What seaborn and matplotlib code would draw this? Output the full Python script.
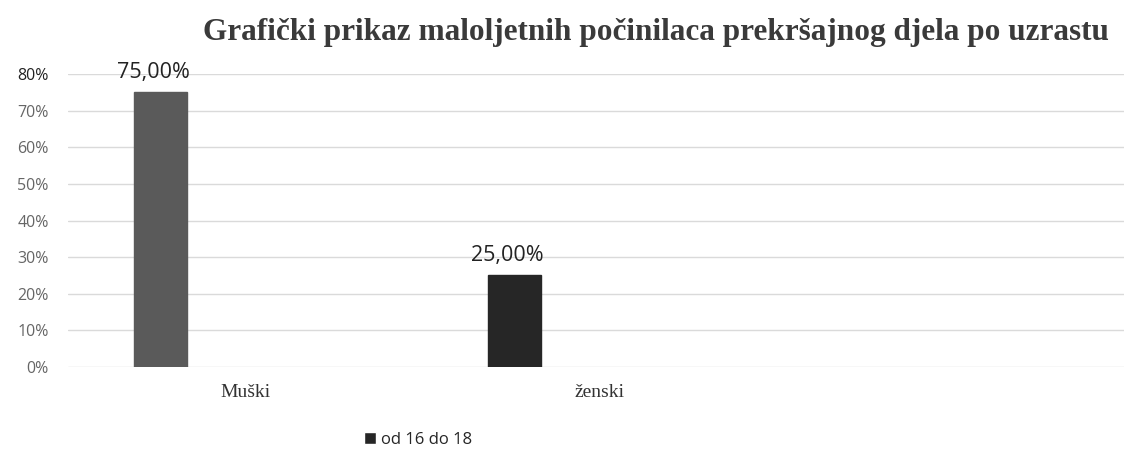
import matplotlib
matplotlib.use("Agg")
import matplotlib.pyplot as plt
from matplotlib.patches import Patch
import pandas as pd
import seaborn as sns

# data
categories = ["Muški", "ženski"]
values = [0.75, 0.25]
series = "od 16 do 18"
slots = ["Muški", "ženski", ""]          # third category slot is empty in the original
bar_colors = ["#5a5a5a", "#262626"]

df = pd.DataFrame({"spol": categories, "udio": values, "uzrast": series})

sns.set_style("white")
plt.rcParams["font.family"] = ["Open Sans", "DejaVu Sans"]

fig = plt.figure(figsize=(11.24, 4.57), dpi=100)
ax = fig.add_axes([0.0605, 0.197, 0.945, 0.641])

sns.barplot(data=df, x="spol", y="udio", hue="uzrast", order=slots,
            hue_order=[series, "_b", "_c"], width=0.72, gap=0.375,
            dodge=True, legend=False, ax=ax)

for p, c in zip(ax.patches, bar_colors):
    p.set_facecolor(c)
    p.set_edgecolor(c)

for p, v in zip(ax.patches, values):
    ax.text(p.get_x() + p.get_width() / 2 - 0.02, v + 0.025, f"{v*100:.2f}%".replace(".", ","),
            ha="center", va="bottom", fontsize=15.5, color="#222222")

ax.set_ylim(0, 0.8)
ax.set_xlim(-0.5, 2.5)
ax.set_yticks([i / 10 for i in range(9)])
ax.set_yticklabels([f"{i*10}%" for i in range(9)], fontsize=11.5, color="#666666")
ax.get_yticklabels()[-1].set_color("#222222")
ax.tick_params(axis="y", length=0, pad=14)
ax.tick_params(axis="x", length=0, pad=12)
ax.set_xticks([0, 1])
ax.set_xticklabels(categories, family="Liberation Serif", fontsize=14, color="#333333")
ax.grid(axis="y", color="#dadada", linewidth=1)
ax.set_axisbelow(True)
ax.set_xlabel("")
ax.set_ylabel("")
sns.despine(ax=ax, left=True, bottom=True, top=True, right=True)

fig.text(0.584, 0.928, "Grafički prikaz maloljetnih počinilaca prekršajnog djela po uzrastu",
         ha="center", va="center", family="Liberation Serif", fontweight="bold",
         fontsize=22.5, color="#3a3a3a")

fig.legend(handles=[Patch(facecolor="#262626", label=series)], loc="center",
           bbox_to_anchor=(0.372, 0.037), frameon=False, fontsize=12,
           handlelength=0.7, handleheight=0.7, handletextpad=0.3)

fig.savefig("out.png", dpi=100)
